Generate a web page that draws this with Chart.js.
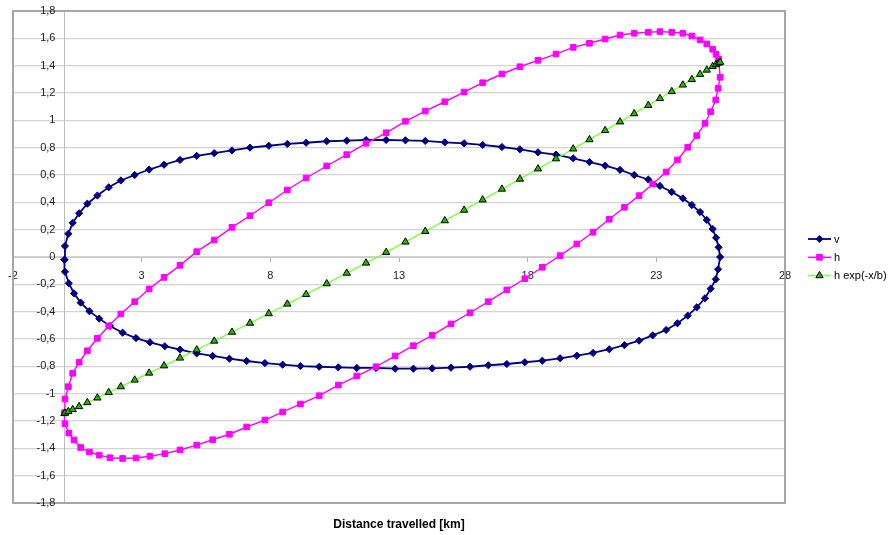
<!DOCTYPE html>
<html>
<head>
<meta charset="utf-8">
<script src="https://cdn.jsdelivr.net/npm/chart.js@4.4.1/dist/chart.umd.min.js"></script>
<style>
  html, body { margin: 0; padding: 0; background: #ffffff; }
  canvas { display: block; }
</style>
</head>
<body>
<canvas id="chart" width="895" height="535"></canvas>
<script>
// Distance along the path [km], one full loop out and back
const distanceKm = [
  0.00, 0.02, 0.15, 0.32, 0.57, 0.89, 1.28, 1.72, 2.19, 2.73,
  3.29, 3.87, 4.49, 5.14, 5.82, 6.51, 7.21, 7.94, 8.66, 9.39,
  10.19, 10.97, 11.72, 12.50, 13.25, 14.02, 14.78, 15.53, 16.25, 17.00,
  17.70, 18.40, 19.10, 19.77, 20.40, 21.01, 21.59, 22.14, 22.69, 23.14,
  23.60, 24.03, 24.38, 24.70, 24.96, 25.19, 25.32, 25.42, 25.48, 25.40,
  25.31, 25.11, 24.89, 24.57, 24.22, 23.82, 23.38, 22.86, 22.33, 21.76,
  21.17, 20.54, 19.91, 19.26, 18.57, 17.89, 17.19, 16.47, 15.76, 15.02,
  14.29, 13.56, 12.85, 12.11, 11.36, 10.64, 9.90, 9.17, 8.48, 7.79,
  7.08, 6.41, 5.76, 5.14, 4.49, 3.90, 3.32, 2.78, 2.26, 1.77,
  1.35, 0.97, 0.63, 0.37, 0.17, 0.02, 0.00
];

// v
const vValues = [
  -0.02, 0.08, 0.17, 0.25, 0.32, 0.39, 0.45, 0.51, 0.56, 0.60,
  0.64, 0.675, 0.71, 0.74, 0.76, 0.78, 0.80, 0.814, 0.827, 0.836,
  0.847, 0.851, 0.856, 0.856, 0.854, 0.849, 0.839, 0.832, 0.82, 0.805,
  0.788, 0.766, 0.749, 0.722, 0.695, 0.668, 0.637, 0.60, 0.567, 0.52,
  0.476, 0.429, 0.38, 0.329, 0.271, 0.205, 0.141, 0.071, 0.00, -0.09,
  -0.163, -0.232, -0.302, -0.368, -0.429, -0.485, -0.534, -0.573, -0.612, -0.645,
  -0.675, -0.702, -0.722, -0.741, -0.759, -0.77, -0.783, -0.792, -0.803, -0.81,
  -0.815, -0.817, -0.817, -0.812, -0.812, -0.807, -0.803, -0.798, -0.788, -0.776,
  -0.761, -0.744, -0.724, -0.705, -0.677, -0.653, -0.624, -0.593, -0.554, -0.505,
  -0.451, -0.397, -0.334, -0.266, -0.192, -0.108, -0.02
];

// h
const hValues = [
  -1.14, -1.039, -0.949, -0.851, -0.77, -0.686, -0.595, -0.505, -0.417, -0.327,
  -0.234, -0.149, -0.061, 0.039, 0.124, 0.217, 0.302, 0.397, 0.49, 0.578,
  0.666, 0.749, 0.832, 0.909, 0.993, 1.068, 1.136, 1.207, 1.275, 1.339,
  1.392, 1.439, 1.485, 1.534, 1.564, 1.595, 1.624, 1.637, 1.644, 1.649,
  1.644, 1.637, 1.617, 1.588, 1.559, 1.52, 1.483, 1.447, 1.315, 1.234,
  1.149, 1.063, 0.978, 0.888, 0.803, 0.71, 0.622, 0.534, 0.449, 0.364,
  0.276, 0.181, 0.095, 0.01, -0.075, -0.159, -0.241, -0.327, -0.408, -0.49,
  -0.573, -0.649, -0.724, -0.803, -0.871, -0.937, -1.015, -1.076, -1.134, -1.193,
  -1.244, -1.297, -1.337, -1.376, -1.412, -1.439, -1.458, -1.471, -1.474, -1.469,
  -1.45, -1.427, -1.394, -1.339, -1.288, -1.22, -1.14
];

// h exp(-x/b), outward leg only (first 49 distances)
const hDampedValues = [
  -1.144, -1.142, -1.131, -1.116, -1.094, -1.065, -1.031, -0.991, -0.949, -0.900,
  -0.849, -0.796, -0.739, -0.679, -0.615, -0.550, -0.484, -0.414, -0.344, -0.274,
  -0.195, -0.118, -0.044, 0.034, 0.110, 0.188, 0.266, 0.343, 0.418, 0.497,
  0.570, 0.645, 0.719, 0.791, 0.859, 0.926, 0.989, 1.049, 1.110, 1.160,
  1.211, 1.259, 1.299, 1.337, 1.368, 1.394, 1.408, 1.419, 1.425
];

const seriesNames = ['v', 'h', 'h exp(-x/b)'];
const xTicks = [-2, 3, 8, 13, 18, 23, 28];
const yTicks = [-1.8, -1.6, -1.4, -1.2, -1, -0.8, -0.6, -0.4, -0.2, 0,
                0.2, 0.4, 0.6, 0.8, 1, 1.2, 1.4, 1.6, 1.8];
const xAxisTitle = 'Distance travelled [km]';

const seriesStyles = [
  { line: '#000080', lineWidth: 1.8, fill: '#000080', stroke: '#000080', shape: 'rectRot', radius: 3.6, borderWidth: 1 },
  { line: '#ff00ff', lineWidth: 1.4, fill: '#ff00ff', stroke: '#ff00ff', shape: 'rect', radius: 4.0, borderWidth: 1 },
  { line: '#80ff40', lineWidth: 1.4, fill: '#26b800', stroke: '#000000', shape: 'triangle', radius: 4.2, borderWidth: 1 }
];

const seriesValues = [vValues, hValues, hDampedValues];
const labelFont = '"Liberation Sans", Arial, sans-serif';

const datasets = seriesValues.map((vals, i) => {
  const st = seriesStyles[i];
  return {
    label: seriesNames[i],
    data: vals.map((y, k) => ({ x: distanceKm[k], y: y })),
    showLine: true,
    borderColor: st.line,
    borderWidth: st.lineWidth,
    backgroundColor: st.fill,
    pointStyle: st.shape,
    pointRadius: st.radius,
    pointHoverRadius: st.radius,
    pointBackgroundColor: st.fill,
    pointBorderColor: st.stroke,
    pointBorderWidth: st.borderWidth,
    tension: 0,
    order: 3 - i,
    clip: false
  };
});

function commaNumber(v) {
  const r = Math.round(v * 10) / 10;
  return String(r).replace('.', ',');
}

function dropScalePadding(scale) {
  scale.paddingLeft = 0;
  scale.paddingRight = 0;
  scale.paddingTop = 0;
  scale.paddingBottom = 0;
}

function markerPath(ctx, shape, x, y, r) {
  ctx.beginPath();
  if (shape === 'rectRot') {
    ctx.moveTo(x, y - r); ctx.lineTo(x + r, y); ctx.lineTo(x, y + r); ctx.lineTo(x - r, y);
    ctx.closePath();
  } else if (shape === 'rect') {
    const s = r * Math.SQRT1_2;
    ctx.rect(x - s, y - s, 2 * s, 2 * s);
  } else {
    const e = r * 3 / Math.sqrt(3);
    const h = e * Math.sqrt(3) / 2;
    ctx.moveTo(x - e / 2, y + h / 3);
    ctx.lineTo(x + e / 2, y + h / 3);
    ctx.lineTo(x, y - 2 * h / 3);
    ctx.closePath();
  }
}

// Plot-area frame, value labels beside the vertical axis, side legend and axis title
const decorations = {
  id: 'decorations',
  beforeDatasetsDraw(chart) {
    const { ctx, chartArea: a, scales } = chart;
    ctx.save();
    ctx.strokeStyle = '#a6a6a6';
    ctx.lineWidth = 2;
    ctx.strokeRect(a.left, a.top, a.right - a.left, a.bottom - a.top);

    // labels of the value axis, placed just left of the axis line at x = 0
    const axisX = scales.x.getPixelForValue(0);
    ctx.fillStyle = '#222222';
    ctx.font = '11px ' + labelFont;
    ctx.textAlign = 'right';
    ctx.textBaseline = 'middle';
    scales.y.ticks.forEach(t => {
      ctx.fillText(commaNumber(t.value), axisX - 9, scales.y.getPixelForValue(t.value));
    });
    ctx.restore();
  },
  afterDraw(chart) {
    const { ctx, chartArea: a } = chart;
    ctx.save();
    // legend
    const lx0 = 808, lx1 = 831, tx = 834;
    const rows = [239, 257.3, 275.6];
    seriesNames.forEach((name, i) => {
      const st = seriesStyles[i];
      const y = rows[i];
      ctx.strokeStyle = st.line;
      ctx.lineWidth = st.lineWidth;
      ctx.beginPath(); ctx.moveTo(lx0, y); ctx.lineTo(lx1, y); ctx.stroke();
      markerPath(ctx, st.shape, (lx0 + lx1) / 2, y, st.radius);
      ctx.fillStyle = st.fill; ctx.fill();
      ctx.strokeStyle = st.stroke; ctx.lineWidth = st.borderWidth; ctx.stroke();
      ctx.fillStyle = '#000000';
      ctx.font = '11px ' + labelFont;
      ctx.textAlign = 'left';
      ctx.textBaseline = 'middle';
      ctx.fillText(name, tx, y + 0.5);
    });
    // axis title
    ctx.fillStyle = '#000000';
    ctx.font = 'bold 12px ' + labelFont;
    ctx.textAlign = 'center';
    ctx.textBaseline = 'middle';
    ctx.fillText(xAxisTitle, (a.left + a.right) / 2, 524.5);
    ctx.restore();
  }
};

new Chart(document.getElementById('chart'), {
  type: 'scatter',
  data: { datasets: datasets },
  options: {
    responsive: false,
    animation: false,
    events: [],
    layout: { padding: { left: 13, top: 11, right: 110, bottom: 32 } },
    plugins: {
      legend: { display: false },
      tooltip: { enabled: false },
      title: { display: false }
    },
    scales: {
      x: {
        type: 'linear',
        position: { y: 0 },
        min: -2, max: 28,
        afterBuildTicks(scale) { scale.ticks = xTicks.map(v => ({ value: v })); },
        afterFit: dropScalePadding,
        grid: { drawOnChartArea: false, drawTicks: true, tickLength: 4, color: '#b0b0b0', lineWidth: 1 },
        border: { display: true, color: '#c8c8c8', width: 1 },
        ticks: {
          autoSkip: false, maxRotation: 0, padding: 8,
          color: '#222222',
          font: { family: labelFont, size: 11 },
          callback: (v) => commaNumber(v)
        }
      },
      y: {
        type: 'linear',
        position: { x: 0 },
        min: -1.8, max: 1.8,
        afterBuildTicks(scale) { scale.ticks = yTicks.map(v => ({ value: v })); },
        afterFit: dropScalePadding,
        grid: { drawOnChartArea: true, drawTicks: false, color: '#d3d3d3', lineWidth: 1.3 },
        border: { display: true, color: '#bdbdbd', width: 1 },
        ticks: { display: false }
      }
    }
  },
  plugins: [decorations]
});
</script>
</body>
</html>
